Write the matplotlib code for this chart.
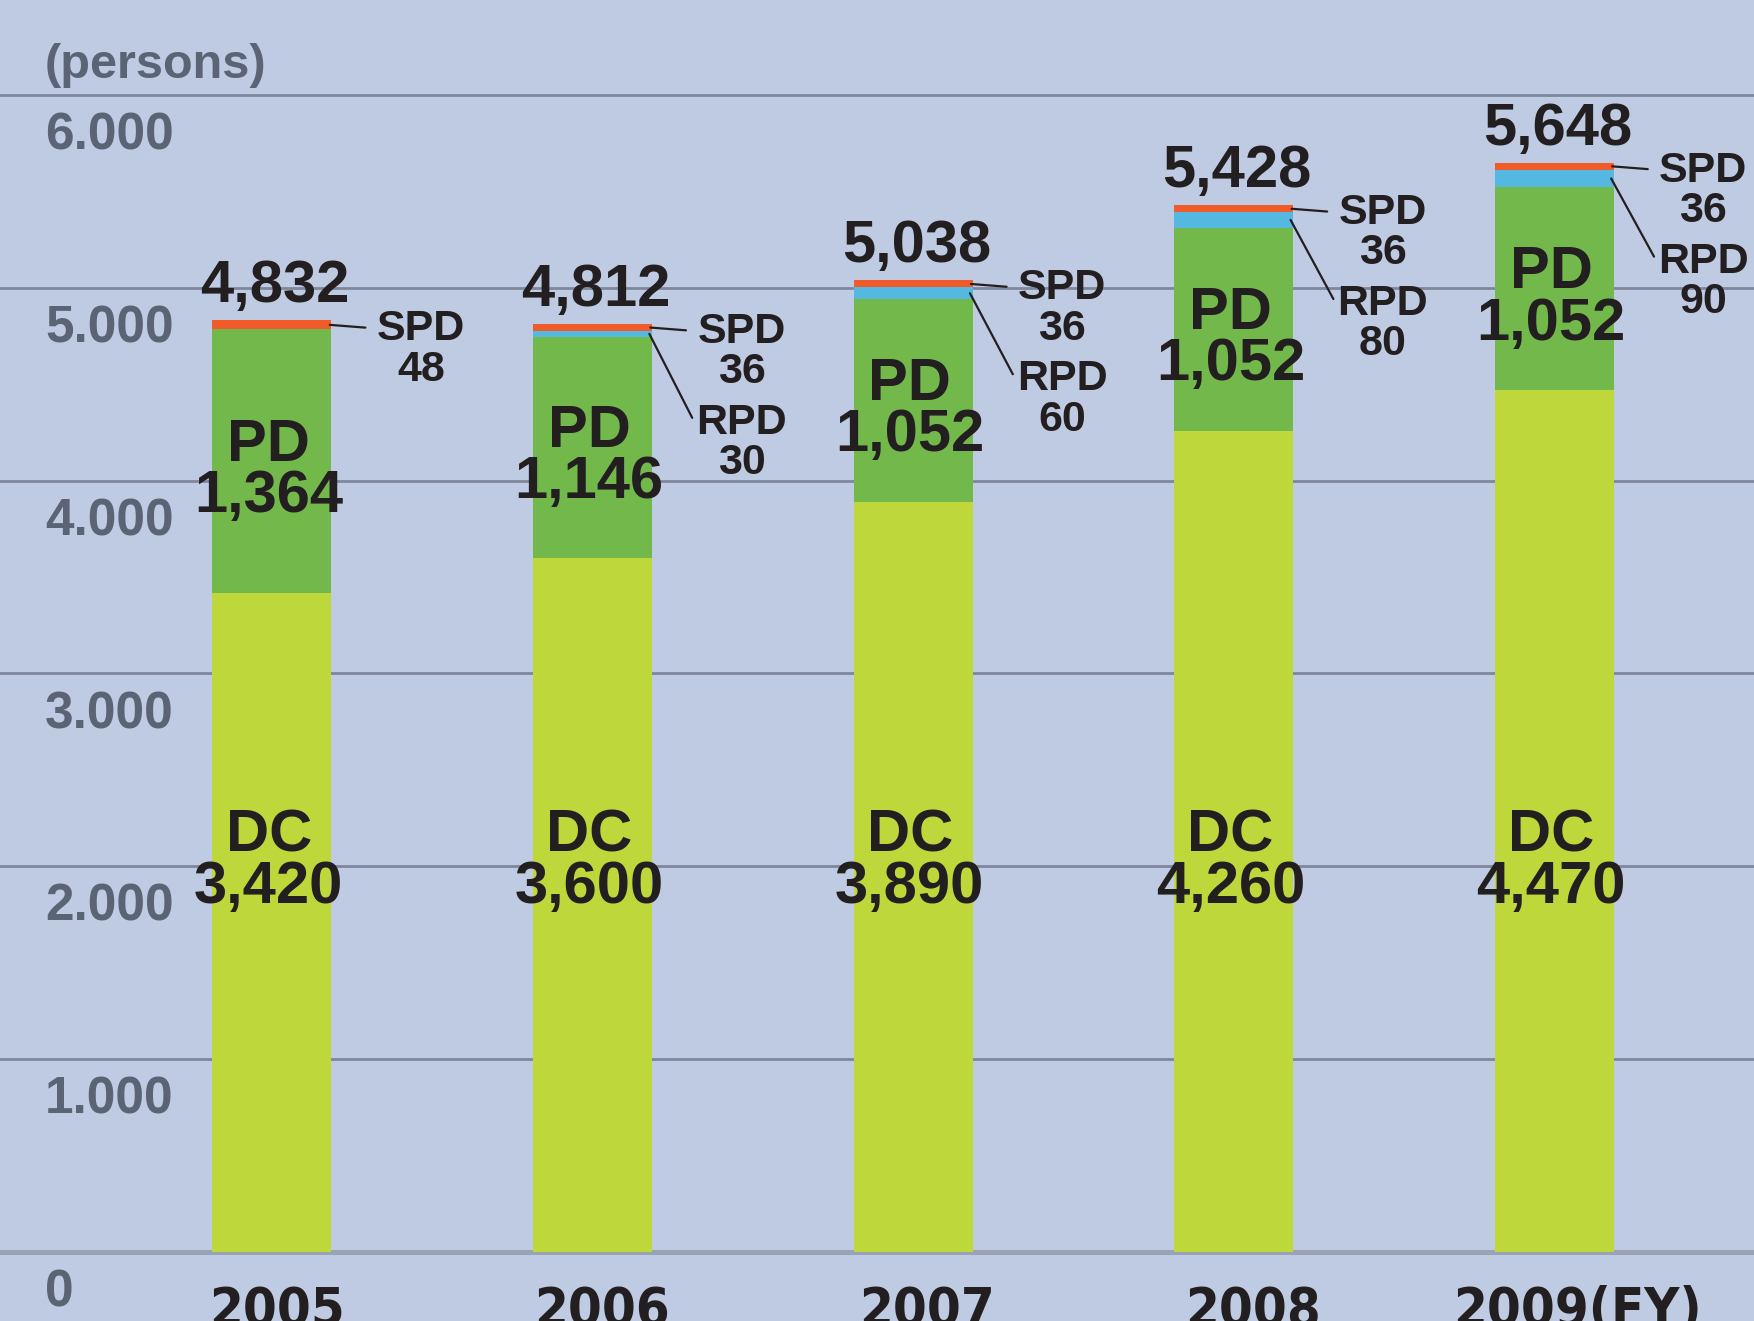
import matplotlib
matplotlib.use('Agg')
import matplotlib.pyplot as plt
from matplotlib import font_manager
from matplotlib.transforms import offset_copy

# ---- data ----
years = ['2005', '2006', '2007', '2008', '2009(FY)']
dc = [3420, 3600, 3890, 4260, 4470]
pd_vals = [1364, 1146, 1052, 1052, 1052]
rpd = [0, 30, 60, 80, 90]
spd = [48, 36, 36, 36, 36]
totals = [4832, 4812, 5038, 5428, 5648]
y_ticks = [0, 1000, 2000, 3000, 4000, 5000, 6000]
y_tick_labels = ['0', '1.000', '2.000', '3.000', '4.000', '5.000', '6.000']
unit_label = '(persons)'

# ---- style ----
BG = '#BFCBE3'
C_DC = '#BED73B'
C_PD = '#73B84B'
C_RPD = '#55B8E0'
C_SPD = '#F15A29'
TXT = '#231F20'
TICK = '#5B6475'
GRID = '#7E879B'
FONT = ['Liberation Sans', 'DejaVu Sans']

# pick a condensed bold face for the year labels if one is installed
year_kw = dict(family=['Liberation Sans', 'DejaVu Sans'], fontsize=44)
_fl = font_manager.fontManager.ttflist
if any(f.name == 'Liberation Sans Narrow' for f in _fl):
    year_kw = dict(family=['Liberation Sans Narrow', 'DejaVu Sans'], fontsize=54)
elif any(f.name == 'DejaVu Sans' and 'ondensed' in f.fname and 'Bold' in f.fname
         and 'Oblique' not in f.fname for f in _fl):
    year_kw = dict(family=['DejaVu Sans'], fontstretch='condensed', fontsize=39)

fig = plt.figure(figsize=(17.54, 13.21), dpi=100)
fig.patch.set_facecolor(BG)
ax = fig.add_axes([0, 0, 1, 1])
ax.set_facecolor(BG)
ax.set_xlim(-0.848, 4.623)
ax.set_ylim(-357.8, 6492.6)
for s in ax.spines.values():
    s.set_visible(False)
ax.set_xticks([])
ax.set_yticks([])

# grid lines
for t in y_ticks:
    if t == 0:
        ax.axhline(t, color='#9AA2B6', lw=3.6, zorder=1)
    else:
        ax.axhline(t, color=GRID, lw=2.0, zorder=1)

x = list(range(len(years)))
w = 0.371
b2 = [a + b for a, b in zip(dc, pd_vals)]
b3 = [a + b for a, b in zip(b2, rpd)]
ax.bar(x, dc, w, color=C_DC, lw=0, zorder=2)
ax.bar(x, pd_vals, w, bottom=dc, color=C_PD, lw=0, zorder=2)
ax.bar(x, rpd, w, bottom=b2, color=C_RPD, lw=0, zorder=2)
ax.bar(x, spd, w, bottom=b3, color=C_SPD, lw=0, zorder=2)

def cap_text(xy, s, size, dy_pt=0.0, dx_pt=0.0, xycoords='data', ha='center',
             color=TXT, family=FONT):
    # place text so its cap-height centre sits at xy + (dx, dy) points
    ax.annotate(s, xy=xy, xycoords=xycoords,
                xytext=(dx_pt, dy_pt - 0.358 * size), textcoords='offset points',
                ha=ha, va='baseline', fontsize=size, fontweight='bold',
                color=color, family=family, annotation_clip=False, zorder=5)

# y tick labels (below each grid line)
TS = 37
for t, lab in zip(y_ticks, y_tick_labels):
    cap_text((0.0257, t), lab, TS, dy_pt=-26, xycoords=('axes fraction', 'data'),
             ha='left', color=TICK)
ax.annotate(unit_label, xy=(0.0257, y_ticks[-1]), xycoords=('axes fraction', 'data'),
            xytext=(0, 12), textcoords='offset points', ha='left', va='baseline',
            fontsize=35, fontweight='bold', color=TICK, family=FONT)

BIG = 43
SIDE = 31
DC_LABEL_Y = 2056
HALF = 18.5
for i in x:
    # totals
    ax.annotate(f'{totals[i]:,}', xy=(i + 0.01, b3[i] + spd[i]), xytext=(0, 13),
                textcoords='offset points', ha='center', va='baseline',
                fontsize=BIG, fontweight='bold', color=TXT, family=FONT, zorder=5)
    # DC label
    cap_text((i - 0.01, DC_LABEL_Y), 'DC', BIG, dy_pt=HALF)
    cap_text((i - 0.01, DC_LABEL_Y), f'{dc[i]:,}', BIG, dy_pt=-HALF)
    # PD label
    pd_mid = dc[i] + pd_vals[i] / 2 - 20
    cap_text((i - 0.01, pd_mid), 'PD', BIG, dy_pt=HALF)
    cap_text((i - 0.01, pd_mid), f'{pd_vals[i]:,}', BIG, dy_pt=-HALF)

    # side labels
    xr = i + w / 2
    spd_mid = b3[i] + spd[i] / 2
    lx = i + 0.465
    cap_text((lx, spd_mid), 'SPD', SIDE)
    cap_text((lx, spd_mid), f'{spd[i]}', SIDE, dy_pt=-29)
    ax.annotate('', xy=(xr - 0.005, spd_mid), xycoords='data',
                xytext=(xr, spd_mid),
                textcoords=offset_copy(ax.transData, fig=fig, x=24.5, y=-2, units='points'),
                arrowprops=dict(arrowstyle='-', lw=1.6, color=TXT, shrinkA=0, shrinkB=0),
                zorder=4)
    if rpd[i] > 0:
        rpd_mid = b2[i] + rpd[i] / 2
        cap_text((lx, spd_mid), 'RPD', SIDE, dy_pt=-65.5)
        cap_text((lx, spd_mid), f'{rpd[i]}', SIDE, dy_pt=-94.5)
        ax.annotate('', xy=(xr - 0.008, rpd_mid), xycoords='data',
                    xytext=(xr, spd_mid),
                    textcoords=offset_copy(ax.transData, fig=fig, x=29, y=-65,
                                           units='points'),
                    arrowprops=dict(arrowstyle='-', lw=1.6, color=TXT,
                                    shrinkA=0, shrinkB=0),
                    zorder=4)

# year labels (cut at the bottom edge, as in the original)
for i, yr in enumerate(years):
    xl = i * 1.014 + 0.017
    ax.annotate(yr, xy=(xl, 0), xytext=(0, -24), textcoords='offset points',
                ha='center', va='top', fontweight='bold',
                color=TXT, annotation_clip=False, **year_kw)

fig.savefig('out.png', dpi=100, facecolor=BG)
